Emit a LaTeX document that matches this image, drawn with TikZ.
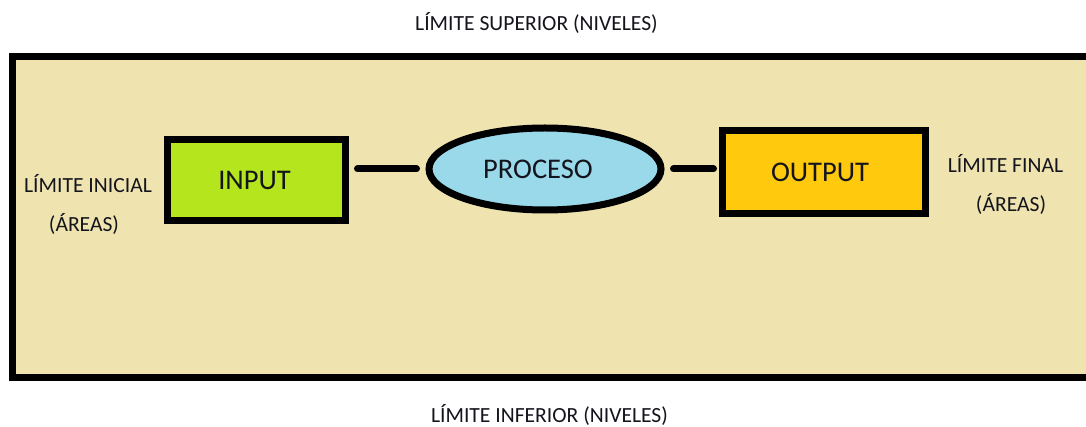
\documentclass[tikz,border=0pt]{standalone}
\usepackage{fontspec}
\setmainfont{Carlito}
\usetikzlibrary{shapes.geometric}
\definecolor{tan}{HTML}{EFE4B0}
\definecolor{lime}{HTML}{B5E61D}
\definecolor{gold}{HTML}{FFC90E}
\definecolor{skyblue}{HTML}{99D9EA}
\definecolor{ink}{HTML}{14141C}
\tikzset{
  heavy/.style={draw=black, line width=7pt},
  stagebox/.style={heavy, rectangle, inner sep=0pt, text=ink, font=\fontsize{28.5}{30}\selectfont},
  stageoval/.style={heavy, ellipse, inner sep=0pt, text=ink, font=\fontsize{28.5}{30}\selectfont},
  limit/.style={anchor=base, inner sep=0pt, text=ink, font=\fontsize{21.6}{23}\selectfont},
  conn/.style={line width=7pt, line cap=round, draw=black},
}
\begin{document}
\begin{tikzpicture}[x=1pt, y=-1pt]
  \useasboundingbox (0,0) rectangle (1086,427);
  \fill[white] (0,0) rectangle (1086,427);
  % system boundary (open to the right)
  \begin{scope}
    \clip (0,0) rectangle (1086,427);
    \draw[heavy, fill=tan] (12.5,56.5) rectangle (1110,377.5);
  \end{scope}

  % boundary labels
  \node[limit] (top) at (536.5,31) {LÍMITE SUPERIOR (NIVELES)};
  \node[limit] (bottom) at (549.5,422) {LÍMITE INFERIOR (NIVELES)};
  \node[limit] (left1) at (88,193) {LÍMITE INICIAL};
  \node[limit] (left2) at (84,232) {(ÁREAS)};
  \node[limit] (right1) at (1005.5,173) {LÍMITE FINAL};
  \node[limit] (right2) at (1011,212) {(ÁREAS)};

  % process stages
  \node[stagebox, fill=lime, minimum width=178pt, minimum height=81pt] (input) at (256.5,180) {\hspace{-4pt}INPUT};
  \node[stageoval, fill=skyblue, minimum width=232pt, minimum height=82pt] (proc) at (545,169) {\hspace{-14pt}PROCESO};
  \node[stagebox, fill=gold, minimum width=203pt, minimum height=83pt] (out) at (824,172) {\hspace{-8pt}OUTPUT};

  % links between stages
  \draw[conn, shorten <=8.5pt, shorten >=9pt] (input.east |- proc.west) -- (proc.west);
  \draw[conn, shorten <=9pt, shorten >=5.5pt] (proc.east) -- (proc.east -| out.west);
\end{tikzpicture}
\end{document}
